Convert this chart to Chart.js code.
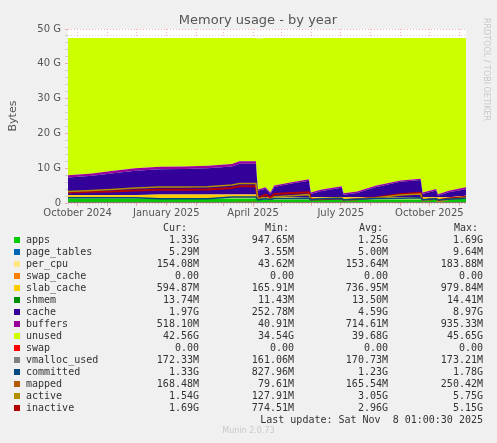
<!DOCTYPE html>
<html>
<head>
  <title>Memory usage - by year</title>
  <script src="https://cdn.jsdelivr.net/npm/chart.js"></script>
  <style>
    body { margin: 0; background: #f0f0f0; width: 497px; height: 443px; overflow: hidden; position: relative; }
    #wrap { position: absolute; left: 0; top: 0; width: 497px; height: 225px; }
    #legend { position: absolute; left: 0; top: 222px; font: 10px "DejaVu Sans Mono", monospace; color: #333; }
    #legend div { height: 12px; line-height: 12px; position: relative; white-space: pre; }
    .sw { position: absolute; left: 14px; top: 3px; width: 6px; height: 6px; }
    .nm { position: absolute; left: 26px; }
    .c { position: absolute; text-align: right; width: 90px; }
    #side { position: absolute; left: 482px; top: 18px; writing-mode: vertical-rl; font: 8px "DejaVu Sans", sans-serif; color: #c8c8c8; }
    #foot { position: absolute; left: 0; width: 497px; top: 426px; text-align: center; font: 8px "DejaVu Sans", sans-serif; color: #c8c8c8; }
  </style>
</head>
<body>
  <div id="wrap"><canvas id="chart"></canvas></div>
  <div id="side">RRDTOOL / TOBI OETIKER</div>
  <div id="legend"></div>
  <div id="foot">Munin 2.0.73</div>

  <script>
    // days since 2024-09-21, values in G
    const days = [0, 25, 45, 70, 95, 120, 145, 170, 178, 195, 197, 205, 210, 214, 232, 250, 252, 262, 284, 286, 300, 320, 345, 366, 368, 382, 384, 395, 413];
    const apps = [1.3, 1.3, 1.3, 1.3, 1.3, 1.3, 1.3, 1.3, 1.3, 1.3, 1.0, 1.0, 1.0, 1.0, 1.0, 1.0, 1.0, 1.0, 1.0, 1.0, 1.0, 1.0, 1.0, 1.0, 1.0, 1.0, 1.0, 1.0, 1.33];
    const pageTables = [0.005, 0.005, 0.005, 0.005, 0.005, 0.005, 0.005, 0.005, 0.005, 0.005, 0.004, 0.004, 0.004, 0.005, 0.005, 0.005, 0.004, 0.005, 0.005, 0.004, 0.005, 0.005, 0.005, 0.005, 0.004, 0.005, 0.004, 0.005, 0.005];
    const perCpu = [0.15, 0.15, 0.15, 0.15, 0.15, 0.15, 0.15, 0.15, 0.15, 0.15, 0.05, 0.15, 0.15, 0.15, 0.15, 0.15, 0.15, 0.15, 0.15, 0.15, 0.15, 0.15, 0.15, 0.15, 0.15, 0.15, 0.15, 0.15, 0.154];
    const swapCache = [0, 0, 0, 0, 0, 0, 0, 0, 0, 0, 0, 0, 0, 0, 0, 0, 0, 0, 0, 0, 0, 0, 0, 0, 0, 0, 0, 0, 0];
    const slabCache = [0.8, 0.8, 0.8, 0.8, 1.0, 1.0, 1.0, 1.0, 1.0, 1.0, 0.5, 0.5, 0.5, 0.5, 0.5, 0.5, 0.5, 0.5, 0.5, 0.5, 0.5, 0.5, 0.5, 0.5, 0.5, 0.5, 0.5, 0.5, 0.59];
    const shmem = [0.014, 0.014, 0.014, 0.014, 0.014, 0.014, 0.014, 0.014, 0.014, 0.014, 0.012, 0.013, 0.013, 0.013, 0.013, 0.013, 0.013, 0.013, 0.013, 0.013, 0.013, 0.013, 0.013, 0.013, 0.013, 0.013, 0.013, 0.013, 0.014];
    const cache = [5.03, 5.53, 6.23, 7.03, 7.23, 7.33, 7.53, 8.03, 8.83, 8.83, 1.93, 2.43, 0.93, 2.93, 3.93, 4.73, 0.93, 1.73, 2.73, 0.73, 1.23, 2.93, 4.43, 4.93, 0.93, 1.93, 0.43, 1.43, 1.89];
    const buffers = [0.7, 0.7, 0.7, 0.7, 0.7, 0.7, 0.7, 0.7, 0.7, 0.7, 0.4, 0.4, 0.4, 0.4, 0.4, 0.4, 0.4, 0.4, 0.4, 0.4, 0.4, 0.4, 0.4, 0.4, 0.4, 0.4, 0.4, 0.4, 0.52];
    const unused = [39.4, 38.9, 38.2, 37.4, 37.0, 36.9, 36.7, 36.2, 35.4, 35.4, 43.4, 42.9, 44.4, 42.4, 41.4, 40.6, 44.4, 43.6, 42.6, 44.6, 44.1, 42.4, 40.9, 40.4, 44.4, 43.4, 44.9, 43.9, 42.9];
    const swap = [0, 0, 0, 0, 0, 0, 0, 0, 0, 0, 0, 0, 0, 0, 0, 0, 0, 0, 0, 0, 0, 0, 0, 0, 0, 0, 0, 0, 0];
    const vmallocUsed = [0.17, 0.17, 0.17, 0.17, 0.17, 0.17, 0.17, 0.17, 0.17, 0.17, 0.16, 0.17, 0.17, 0.17, 0.17, 0.17, 0.17, 0.17, 0.17, 0.17, 0.17, 0.17, 0.17, 0.17, 0.17, 0.17, 0.17, 0.17, 0.17];
    const committed = [1.5, 1.5, 1.5, 1.5, 1.2, 1.2, 1.2, 1.7, 1.7, 1.7, 0.9, 1.2, 1.0, 1.3, 1.3, 1.4, 0.9, 1.2, 1.3, 0.9, 1.1, 1.3, 1.4, 1.5, 0.9, 1.2, 0.85, 1.1, 1.33];
    const mapped = [0.17, 0.17, 0.17, 0.17, 0.17, 0.17, 0.17, 0.17, 0.25, 0.25, 0.08, 0.15, 0.15, 0.17, 0.17, 0.17, 0.1, 0.16, 0.17, 0.1, 0.16, 0.17, 0.17, 0.17, 0.1, 0.16, 0.1, 0.16, 0.17];
    const active = [3.3, 3.6, 3.9, 4.3, 4.6, 4.6, 4.7, 5.2, 5.6, 5.6, 1.2, 1.6, 0.9, 1.8, 2.1, 2.4, 0.8, 1.2, 1.6, 0.7, 1.0, 1.5, 2.3, 2.6, 0.6, 1.2, 0.3, 1.0, 1.54];
    const inactive = [3.0, 3.2, 3.3, 3.6, 3.8, 3.8, 3.9, 4.3, 4.8, 4.8, 1.4, 2.4, 1.6, 2.6, 2.9, 3.1, 1.0, 1.1, 1.3, 0.8, 1.1, 1.6, 2.5, 2.9, 0.8, 1.2, 0.8, 1.3, 1.69];

    const monthTicks = [10, 41, 71, 102, 133, 161, 192, 222, 253, 283, 314, 345, 375, 406];
    const tickLabels = { 10: 'October 2024', 102: 'January 2025', 192: 'April 2025', 283: 'July 2025', 375: 'October 2025' };

    const legendRows = [
      ['apps', '#00cc00', '1.33G', '947.65M', '1.25G', '1.69G'],
      ['page_tables', '#0066b3', '5.29M', '3.55M', '5.00M', '9.64M'],
      ['per_cpu', '#ffe680', '154.08M', '43.62M', '153.64M', '183.88M'],
      ['swap_cache', '#ff8000', '0.00', '0.00', '0.00', '0.00'],
      ['slab_cache', '#ffcc00', '594.87M', '165.91M', '736.95M', '979.84M'],
      ['shmem', '#008f00', '13.74M', '11.43M', '13.50M', '14.41M'],
      ['cache', '#330099', '1.97G', '252.78M', '4.59G', '8.97G'],
      ['buffers', '#990099', '518.10M', '40.91M', '714.61M', '935.33M'],
      ['unused', '#ccff00', '42.56G', '34.54G', '39.68G', '45.65G'],
      ['swap', '#ff0000', '0.00', '0.00', '0.00', '0.00'],
      ['vmalloc_used', '#808080', '172.33M', '161.06M', '170.73M', '173.21M'],
      ['committed', '#00487d', '1.33G', '827.96M', '1.23G', '1.78G'],
      ['mapped', '#b35a00', '168.48M', '79.61M', '165.54M', '250.42M'],
      ['active', '#b38f00', '1.54G', '127.91M', '3.05G', '5.75G'],
      ['inactive', '#b30000', '1.69G', '774.51M', '2.96G', '5.15G']
    ];

    // legend table
    const leg = document.getElementById('legend');
    const colRight = [199, 294, 388, 483];
    let head = '<div>';
    ['Cur:', 'Min:', 'Avg:', 'Max:'].forEach((h, i) => {
      head += '<span class="c" style="left:' + (colRight[i] - 90 + (i === 0 ? -12 : -5)) + 'px">' + h + '</span>';
    });
    leg.innerHTML = head + '</div>';
    legendRows.forEach(r => {
      let row = '<div><span class="sw" style="background:' + r[1] + '"></span><span class="nm">' + r[0] + '</span>';
      for (let i = 0; i < 4; i++) {
        row += '<span class="c" style="left:' + (colRight[i] - 90) + 'px">' + r[i + 2] + '</span>';
      }
      leg.innerHTML += row + '</div>';
    });
    leg.innerHTML += '<div><span class="c" style="left:213px;width:270px">Last update: Sat Nov  8 01:00:30 2025</span></div>';

    const pts = arr => days.map((d, i) => ({ x: d, y: arr[i] }));

    const areas = [
      ['apps', apps, '#00cc00'], ['page_tables', pageTables, '#0066b3'], ['per_cpu', perCpu, '#ffe680'],
      ['swap_cache', swapCache, '#ff8000'], ['slab_cache', slabCache, '#ffcc00'], ['shmem', shmem, '#008f00'],
      ['cache', cache, '#330099'], ['buffers', buffers, '#990099'], ['unused', unused, '#ccff00'], ['swap', swap, '#ff0000']
    ];
    const lines = [
      ['vmalloc_used', vmallocUsed, '#808080', 1], ['committed', committed, '#00487d', 1.5],
      ['mapped', mapped, '#b35a00', 1], ['active', active, '#b38f00', 1.5], ['inactive', inactive, '#b30000', 2]
    ];

    const datasets = [];
    areas.forEach((a, i) => datasets.push({
      label: a[0], data: pts(a[1]), stack: 'mem', backgroundColor: a[2], borderColor: a[2],
      borderWidth: 0, fill: i === 0 ? 'origin' : '-1', pointRadius: 0, tension: 0
    }));
    lines.forEach(l => datasets.push({
      label: l[0], data: pts(l[1]), stack: l[0], borderColor: l[2], borderWidth: l[3],
      fill: false, pointRadius: 0, tension: 0, order: -1
    }));

    const deco = {
      id: 'deco',
      beforeDraw(chart) {
        const { ctx, chartArea: a } = chart;
        ctx.save();
        ctx.fillStyle = '#ffffff';
        ctx.fillRect(a.left, a.top, a.right - a.left, a.bottom - a.top);
        ctx.restore();
      },
      afterDraw(chart) {
        const { ctx } = chart;
        ctx.save();
        ctx.fillStyle = '#555';
        ctx.font = '13px "DejaVu Sans", sans-serif';
        ctx.textAlign = 'center';
        ctx.fillText('Memory usage - by year', 258, 24);
        ctx.translate(16, 116);
        ctx.rotate(-Math.PI / 2);
        ctx.font = '11px "DejaVu Sans", sans-serif';
        ctx.fillText('Bytes', 0, 0);
        ctx.restore();
      }
    };

    new Chart(document.getElementById('chart').getContext('2d'), {
      type: 'line',
      data: { datasets: datasets },
      plugins: [deco],
      options: {
        responsive: true,
        maintainAspectRatio: false,
        animation: false,
        layout: { padding: { top: 29, right: 31, left: 0, bottom: 0 } },
        plugins: { legend: { display: false }, tooltip: { enabled: false } },
        scales: {
          x: {
            type: 'linear', min: 0, max: 413, z: 1,
            afterBuildTicks: s => { s.ticks = monthTicks.map(v => ({ value: v })); },
            afterFit: s => { s.height = 22; },
            ticks: {
              autoSkip: false, maxRotation: 0, padding: 1,
              color: '#555', font: { size: 10, family: 'DejaVu Sans' },
              callback: v => tickLabels[v] || ''
            },
            grid: { color: 'rgba(230,120,120,0.55)', tickLength: 3, drawTicks: true },
            border: { display: false, dash: [1, 2] }
          },
          y: {
            stacked: true, min: 0, max: 50, z: 1,
            afterFit: s => { s.width = 68; },
            ticks: {
              stepSize: 2, autoSkip: false, padding: 4,
              color: '#555', font: { size: 10, family: 'DejaVu Sans' },
              callback: v => (v % 10 === 0 ? (v === 0 ? '0' : v + ' G') : '')
            },
            grid: {
              color: c => (c.tick.value % 10 === 0 ? 'rgba(230,120,120,0.55)' : 'rgba(150,150,150,0.35)'),
              tickLength: 3
            },
            border: { display: false, dash: [1, 2] }
          }
        }
      }
    });
  </script>
</body>
</html>
